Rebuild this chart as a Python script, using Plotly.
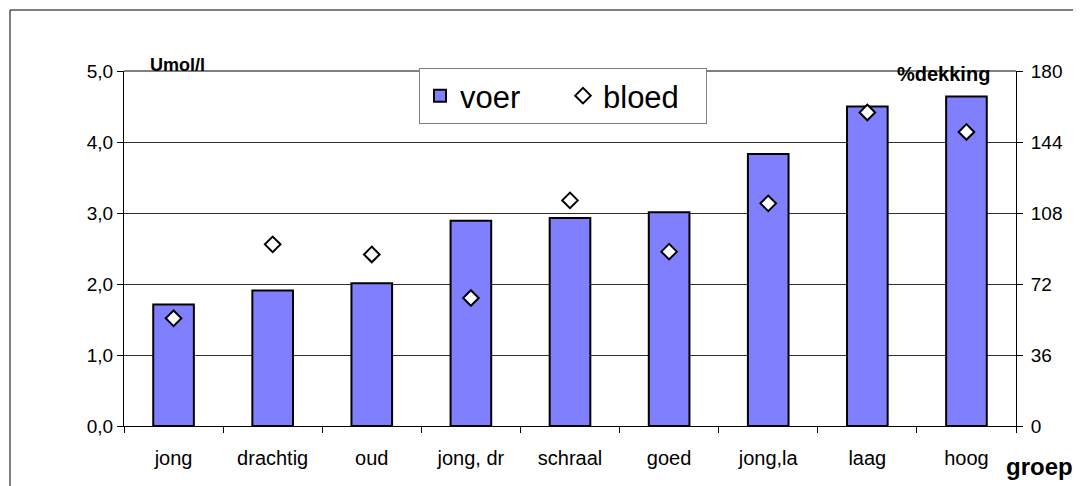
import plotly.graph_objects as go

categories = ["jong", "drachtig", "oud", "jong, dr", "schraal", "goed", "jong,la", "laag", "hoog"]
voer = [1.71, 1.91, 2.01, 2.89, 2.93, 3.01, 3.83, 4.50, 4.64]
bloed = [54.6, 92.1, 87.0, 64.9, 114.4, 88.4, 112.9, 159.0, 149.1]
left_ticks = [0, 1, 2, 3, 4, 5]
left_ticktext = ["0,0", "1,0", "2,0", "3,0", "4,0", "5,0"]
right_ticks = [0, 36, 72, 108, 144, 180]

FONT = "Liberation Sans, Arial, sans-serif"

fig = go.Figure()
fig.add_trace(go.Bar(
    x=categories, y=voer, name="voer", yaxis="y",
    marker=dict(color="#8080FF", line=dict(color="black", width=2)),
    width=0.41,
))
fig.add_trace(go.Scatter(
    x=categories, y=bloed, name="bloed", yaxis="y2", mode="markers",
    marker=dict(symbol="diamond", size=12, color="white", line=dict(color="black", width=2)),
))

# page offset (body margin) = 8px
OFF = 8
PL, PR, PT, PB = 124, 1016, 71, 426  # plot area in page pixels
W, H = 1081 - OFF, 486 - OFF
L, T = PL - OFF, PT - OFF
R = W - (PR - OFF)
B = H - (PB - OFF)
pw, ph = PR - PL, PB - PT

def px(x):
    return (x - PL) / pw

def py(y):
    return 1 - (y - PT) / ph

fig.update_layout(
    width=W, height=H,
    margin=dict(l=L, r=R, t=T, b=B),
    paper_bgcolor="white", plot_bgcolor="white",
    font=dict(family=FONT, size=19, color="black"),
    bargap=0.59,
    showlegend=True,
    legend=dict(
        orientation="h", x=px(419), y=py(68), xanchor="left", yanchor="top",
        bgcolor="white", bordercolor="#808080", borderwidth=1,
        font=dict(size=31, family=FONT), itemwidth=30,
        entrywidth=98, entrywidthmode="pixels",
    ),
    xaxis=dict(
        type="category", showline=True, linecolor="black", linewidth=1,
        ticks="outside", tickson="boundaries", ticklen=6, tickcolor="black",
        showgrid=False, tickfont=dict(size=20), range=[-0.5, 8.5],
        ticklabelstandoff=14,
    ),
    yaxis=dict(
        range=[0, 5], tickvals=left_ticks, ticktext=left_ticktext,
        showline=True, linecolor="black", linewidth=1,
        ticks="outside", ticklen=6, tickcolor="black",
        showgrid=True, gridcolor="#303030", gridwidth=1,
        zeroline=False, tickfont=dict(size=19),
    ),
    yaxis2=dict(
        range=[0, 180], tickvals=right_ticks, overlaying="y", side="right",
        showline=True, linecolor="black", linewidth=1,
        ticks="outside", ticklen=6, tickcolor="black",
        showgrid=False, zeroline=False, tickfont=dict(size=19),
        ticklabelstandoff=4,
    ),
)

# plot area top border (gray)
fig.add_shape(type="line", xref="paper", yref="paper", x0=0, x1=1, y0=1, y1=1,
              line=dict(color="#808080", width=2))
# chart frame (top and left)
fig.add_shape(type="line", xref="paper", yref="paper", x0=px(10), x1=px(1090), y0=py(10), y1=py(10),
              line=dict(color="black", width=1))
fig.add_shape(type="line", xref="paper", yref="paper", x0=px(10), x1=px(10), y0=py(10), y1=py(495),
              line=dict(color="black", width=1))

fig.add_annotation(text="<b>Umol/l</b>", xref="paper", yref="paper", x=px(177), y=py(65),
                   showarrow=False, font=dict(size=18, family=FONT), xanchor="center", yanchor="middle")
fig.add_annotation(text="<b>%dekking</b>", xref="paper", yref="paper", x=px(943), y=py(74),
                   showarrow=False, font=dict(size=20, family=FONT), xanchor="center", yanchor="middle")
fig.add_annotation(text="<b>groep</b>", xref="paper", yref="paper", x=px(1039), y=py(466),
                   showarrow=False, font=dict(size=24, family=FONT), xanchor="center", yanchor="middle")

fig.write_html("out.html")
